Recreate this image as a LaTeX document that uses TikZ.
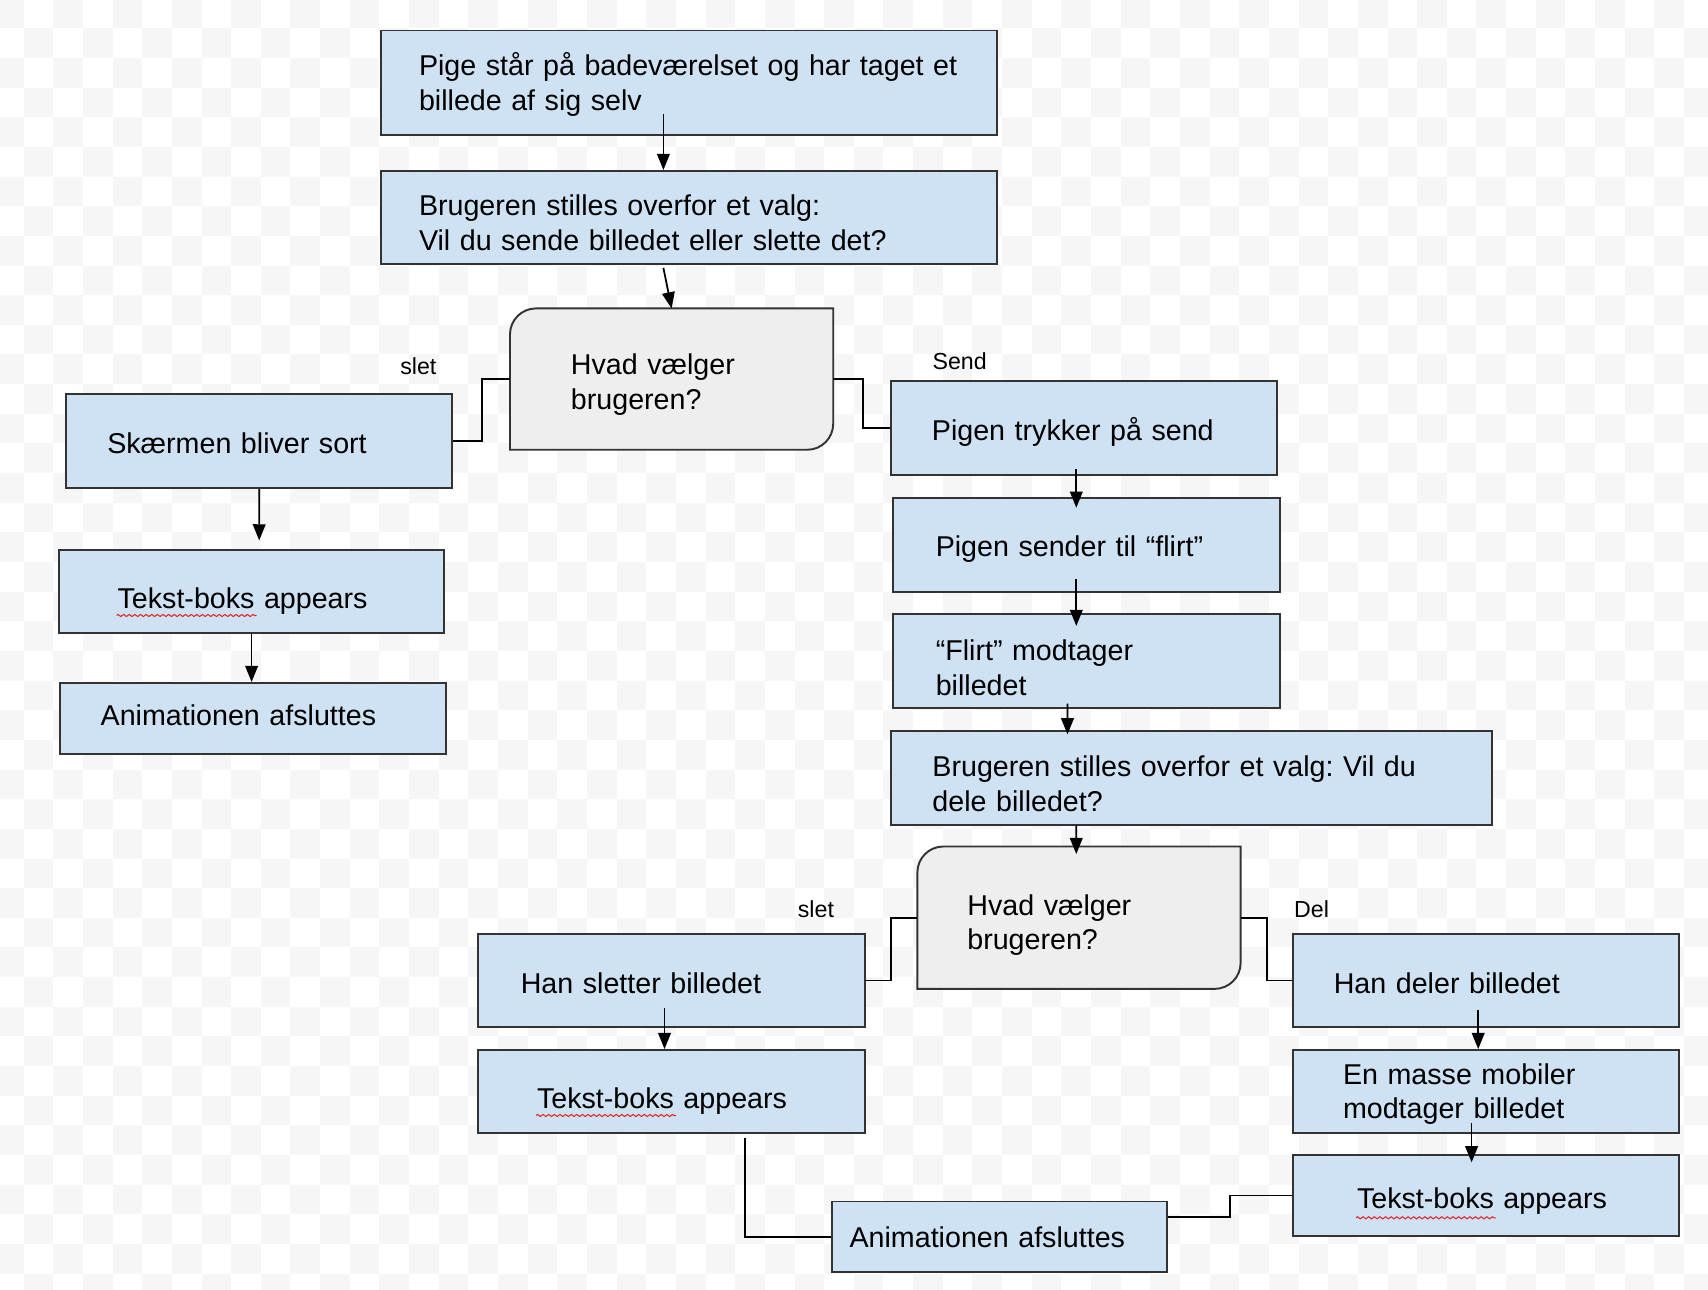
\documentclass[tikz,border=0pt]{standalone}
\usepackage{fontspec}
\setmainfont{Liberation Sans}
\usetikzlibrary{arrows.meta,backgrounds,decorations.pathmorphing}

\definecolor{boxblue}{HTML}{CFE2F3}
\definecolor{choicegray}{HTML}{EEEEEE}
\definecolor{edgegray}{HTML}{333333}
\definecolor{checkgray}{HTML}{F6F6F6}
\definecolor{spellred}{HTML}{E02828}

\def\boxdrop{0pt}
\def\boxlift{0pt}

\tikzset{
  textdrop/.code={\def\boxdrop{#1}},
  textlift/.code={\def\boxlift{#1}},
  box/.style={draw=edgegray, fill=boxblue, line width=0.55pt, align=left,
    font=\fontsize{8.15}{9.9}\selectfont, inner xsep=0.41cm, inner ysep=0pt,
    text width=3.04cm, minimum height=0.937cm, textdrop=1.85pt, textlift=0pt,
    execute at begin node={\rule{0pt}{\dimexpr0.905em+\boxdrop\relax}},
    execute at end node={\rule[-\dimexpr0.212em+\boxlift\relax]{0pt}{\dimexpr0.212em+\boxlift\relax}}},
  tbox/.style={box, inner xsep=0.588cm, text width=2.68cm, minimum height=0.828cm, textdrop=3.9pt},
  choice/.style={box, draw=none, fill=none, inner xsep=0.6cm, text width=2.013cm, minimum height=1.394cm},
  choiceline/.style={draw=edgegray, fill=choicegray, line width=0.55pt},
  link/.style={draw=black, line width=0.5pt},
  arr/.style={link, -{Triangle[length=4.6pt,width=3.6pt]}},
  tag/.style={font=\fontsize{6.6}{8}\selectfont, inner sep=0pt},
  spell/.style={draw=spellred, line width=0.3pt, decorate,
    decoration={zigzag, amplitude=0.3pt, segment length=1.6pt}},
}

\begin{document}
\frenchspacing
\begin{tikzpicture}
\useasboundingbox (0,0) rectangle (17.08,-12.897);

\node[box, text width=5.40cm, inner xsep=0.377cm, minimum height=1.046cm, textdrop=0pt] (pige) at (6.890,-0.828) {Pige står på badeværelset og har taget et\\billede af sig selv};
\node[box, text width=5.40cm, inner xsep=0.377cm, minimum height=0.926cm, textdrop=3.4pt] (valg) at (6.890,-2.173) {Brugeren stilles overfor et valg:\\Vil du sende billedet eller slette det?};
\node[choice] (hvad) at (6.716,-3.791) {Hvad vælger\\brugeren?};

\node[box, textdrop=1.2pt] (sort) at (2.593,-4.412) {Skærmen bliver sort};
\node[tbox] (tekstA) at (2.516,-5.915) {Tekst-boks appears};
\node[box, minimum height=0.708cm, textdrop=0pt, textlift=1.85pt] (slutA) at (2.527,-7.184) {Animationen afsluttes};

\node[box, textdrop=1.2pt] (trykker) at (10.839,-4.281) {Pigen trykker på send};
\node[box, inner xsep=0.425cm, text width=3.017cm, textdrop=1.2pt] (sender) at (10.866,-5.447) {Pigen sender til “flirt”};
\node[box, inner xsep=0.425cm, text width=3.017cm, textdrop=4pt] (flirt) at (10.866,-6.612) {“Flirt” modtager\\billedet};
\node[box, text width=5.185cm, textdrop=3.4pt] (deleValg) at (11.917,-7.778) {Brugeren stilles overfor et valg: Vil du\\dele billedet?};
\node[choice, inner xsep=0.49cm, text width=2.233cm, minimum height=1.405cm, textdrop=2.8pt] (hvadB) at (10.790,-9.177) {Hvad vælger\\brugeren?};

\node[box, inner xsep=0.425cm, text width=3.017cm] (sletter) at (6.716,-9.804) {Han sletter billedet};
\node[tbox, text width=2.691cm] (tekstB) at (6.716,-10.915) {Tekst-boks appears};
\node[box] (deler) at (14.858,-9.804) {Han deler billedet};
\node[box, inner xsep=0.5cm, text width=2.856cm, minimum height=0.828cm, textdrop=0pt] (mobiler) at (14.858,-10.915) {En masse mobiler\\modtager billedet};
\node[tbox, inner xsep=0.64cm, text width=2.576cm, minimum height=0.817cm, textdrop=2pt] (tekstC) at (14.858,-11.955) {Tekst-boks appears};
\node[box, inner xsep=0.174cm, text width=2.996cm, minimum height=0.708cm, textdrop=0.3pt] (slutB) at (9.994,-12.369) {Animationen afsluttes};

\node[tag] (sletA) at (4.183,-3.660) {slet};
\node[tag] (send) at (9.597,-3.617) {Send};
\node[tag] (sletB) at (8.159,-9.096) {slet};
\node[tag] (del) at (13.115,-9.096) {Del};

\draw[arr] ([shift={(-0.256,0.218)}]pige.south) -- ([xshift=-0.256cm]valg.north);
\draw[arr] ([shift={(-0.256,-0.033)}]valg.south) -- (hvad.north);
\draw[arr] (sort.south) -- ([shift={(0.076,0.087)}]tekstA.north);
\draw[arr] (tekstA.south) -- (tekstA.south |- slutA.north);
\draw[arr] ([shift={(-0.076,0.065)}]trykker.south) -- ([shift={(-0.103,-0.109)}]sender.north);
\draw[arr] ([shift={(-0.103,0.131)}]sender.south) -- ([shift={(-0.103,-0.126)}]flirt.north);
\draw[arr] ([shift={(-0.191,0.054)}]flirt.south) -- ([shift={(-1.242,-0.044)}]deleValg.north);
\draw[arr] ([xshift=-1.155cm]deleValg.south) -- ([shift={(-0.027,-0.076)}]hvadB.north);
\draw[arr] ([shift={(-0.071,0.207)}]sletter.south) -- ([xshift=-0.071cm]tekstB.north);
\draw[arr] ([shift={(-0.076,0.185)}]deler.south) -- ([xshift=-0.076cm]mobiler.north);
\draw[arr] ([shift={(-0.142,0.109)}]mobiler.south) -- ([shift={(-0.142,-0.087)}]tekstC.north);

\draw[link] (hvad.west) -- ++(-0.283,0) |- (sort.east);
\draw[link] (hvad.east) -- ++(0.294,0) |- (trykker.west);
\draw[link] (hvadB.west) -- ++(-0.261,0) |- (sletter.east);
\draw[link] (hvadB.east) -- ++(0.261,0) |- (deler.west);
\draw[link] ([shift={(0.735,-0.044)}]tekstB.south) |- (slutB.west);
\draw[link] (tekstC.west) -- ++(-0.621,0) |- ([yshift=0.2cm]slutB.east);

\draw[spell] ([shift={(0.588,-0.24)}]tekstA.west) -- ++(1.40,0);
\draw[spell] ([shift={(0.588,-0.24)}]tekstB.west) -- ++(1.40,0);
\draw[spell] ([shift={(0.64,-0.223)}]tekstC.west) -- ++(1.40,0);

\begin{scope}[on background layer]
  \clip (0,0) rectangle (17.08,-12.897);
  \foreach \i in {0,...,57}
    \foreach \j in {0,...,43} {
      \pgfmathtruncatemacro\cellodd{mod(\i+\j,2)}
      \ifnum\cellodd=0
        \fill[checkgray] (-0.06+\i*0.2965,0.013-\j*0.2965) rectangle ++(0.2965,-0.2965);
      \fi
    }
\end{scope}
\begin{scope}[on background layer]
  \foreach \nd in {hvad,hvadB}
    \draw[choiceline] (\nd.south west) -- ([yshift=-0.26cm]\nd.north west)
      arc[start angle=180, end angle=90, radius=0.26cm] -- (\nd.north east)
      -- ([yshift=0.26cm]\nd.south east) arc[start angle=0, end angle=-90, radius=0.26cm] -- cycle;
\end{scope}
\end{tikzpicture}
\end{document}
